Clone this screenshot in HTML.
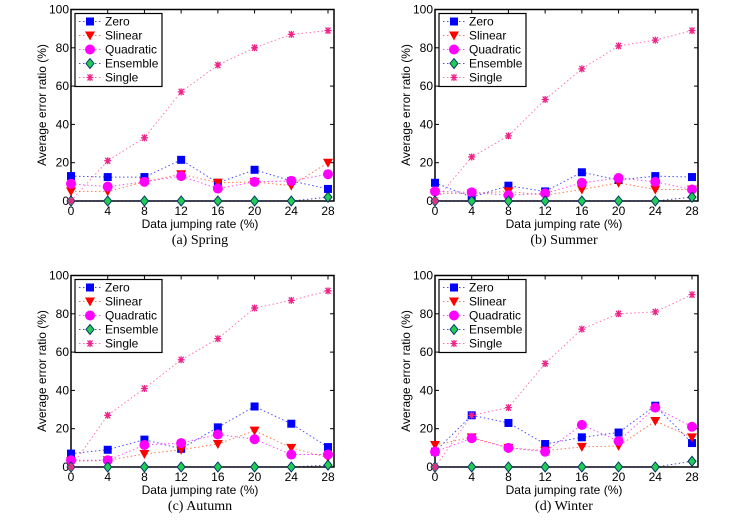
<!DOCTYPE html>
<html><head><meta charset="utf-8"><style>
body{margin:0;background:#fff;}
svg{display:block;font-family:"Liberation Sans",sans-serif;}
</style></head><body>
<svg id="c" width="747" height="521" viewBox="0 0 747 521"></svg>
<script>
const xCats=[0,4,8,12,16,20,24,28];
const yTicks=[0,20,40,60,80,100];
const seriesNames=["Zero","Slinear","Quadratic","Ensemble","Single"];
const springZero=[13,12.5,12.5,21.5,9.5,16.3,10.5,6.3];
const springSlinear=[5,5,10,14,9.5,10,8,20];
const springQuadratic=[9,7.5,10,13,6.5,10,10.5,14];
const springEnsemble=[0,0,0,0,0,0,0,2];
const springSingle=[0,21,33,57,71,80,87,89];
const summerZero=[9.5,2,8,5,15,11,13,12.5];
const summerSlinear=[4,4,5,3,6,9.5,6,6];
const summerQuadratic=[5,4.5,3,4,9.5,12,10,6];
const summerEnsemble=[0,0,0,0,0,0,0,2];
const summerSingle=[0,23,34,53,69,81,84,89];
const autumnZero=[7,9,14.3,9.5,20.7,31.6,22.6,10.4];
const autumnSlinear=[3,3.5,6.8,9,12,19,10,5];
const autumnQuadratic=[3.5,3.5,11.5,12.5,17,14.5,6.5,6.5];
const autumnEnsemble=[0,0,0,0,0,0,0,1];
const autumnSingle=[0,27,41,56,67,83,87,92];
const winterZero=[8,27,23,12,15.5,18,32,12.5];
const winterSlinear=[11.5,15.5,10,8.5,10.5,11,24,15.5];
const winterQuadratic=[8,15,10,8,22,13.5,31,21];
const winterEnsemble=[0,0,0,0,0,0,0,3];
const winterSingle=[0,27,31,54,72,80,81,90];

const panels=[
 {id:"spring",cap:"(a)  Spring",x0:71,y0:201,d:[springZero,springSlinear,springQuadratic,springEnsemble,springSingle]},
 {id:"summer",cap:"(b)  Summer",x0:435,y0:201,d:[summerZero,summerSlinear,summerQuadratic,summerEnsemble,summerSingle]},
 {id:"autumn",cap:"(c)  Autumn",x0:71,y0:467,d:[autumnZero,autumnSlinear,autumnQuadratic,autumnEnsemble,autumnSingle]},
 {id:"winter",cap:"(d)  Winter",x0:435,y0:467,d:[winterZero,winterSlinear,winterQuadratic,winterEnsemble,winterSingle]}
];
const lineCol=["#0000ff","#ff4000","#ff00ff","#0000c0","#ff3399"];
const NS="http://www.w3.org/2000/svg";
const svg=document.getElementById("c");
function mk(t,a,p){const e=document.createElementNS(NS,t);for(const k in a)e.setAttribute(k,a[k]);(p||svg).appendChild(e);return e;}
function marker(g,i,x,y){
 let e;
 if(i===0)e=mk("rect",{x:x-4,y:y-4,width:8,height:8,fill:"#0000ff"},g);
 else if(i===1)e=mk("polygon",{points:`${x-5},${y-4} ${x+5},${y-4} ${x},${y+5}`,fill:"#ff0000"},g);
 else if(i===2)e=mk("circle",{cx:x,cy:y,r:5,fill:"#ff00ff"},g);
 else if(i===3)e=mk("polygon",{points:`${x},${y-5} ${x+4},${y} ${x},${y+5} ${x-4},${y}`,fill:"#22cc55",stroke:"#003366","stroke-width":1},g);
 else{e=mk("path",{d:`M${x-3.5},${y}H${x+3.5}M${x-2.5},${y-3}L${x+2.5},${y+3}M${x-2.5},${y+3}L${x+2.5},${y-3}M${x},${y-3.5}V${y+3.5}`,stroke:"#ee2288","stroke-width":1.3,fill:"none"},g);}
 return e;
}
panels.forEach(p=>{
 const W=257,H=191.5,right=p.x0+263;
 const sx=v=>p.x0+v/28*W, sy=v=>p.y0-v/100*H;
 const g=mk("g",{});
 
 
 const box=mk("rect",{x:p.x0,y:sy(100),width:right-p.x0,height:H,fill:"#fff",stroke:"#000","stroke-width":1.5},g);
 
 
 yTicks.forEach(t=>{
  mk("line",{x1:p.x0,x2:p.x0+4,y1:sy(t),y2:sy(t),stroke:"#000"},g);
  mk("line",{x1:right,x2:right-4,y1:sy(t),y2:sy(t),stroke:"#000"},g);
  const tx=mk("text",{x:p.x0-2,y:sy(t)+4,"text-anchor":"end","font-size":12},g);
  
  
  tx.textContent=t;
 });
 xCats.forEach(c=>{
  mk("line",{x1:sx(c),x2:sx(c),y1:p.y0,y2:p.y0-4,stroke:"#000"},g);
  mk("line",{x1:sx(c),x2:sx(c),y1:sy(100),y2:sy(100)+4,stroke:"#000"},g);
  const tx=mk("text",{x:sx(c),y:p.y0+14,"text-anchor":"middle","font-size":12},g);
  
  
  tx.textContent=c;
 });
 const yl=mk("text",{x:0,y:0,"text-anchor":"middle","font-size":12,transform:`translate(${p.x0-25},${p.y0-96}) rotate(-90)`},g);
 
 
 yl.textContent="Average error ratio (%)";
 const xl=mk("text",{x:p.x0+129,y:p.y0+27,"text-anchor":"middle","font-size":12},g);
 
 
 xl.textContent="Data jumping rate (%)";
 const cp=mk("text",{x:p.x0+129,y:p.y0+43,"text-anchor":"middle","font-size":14,"font-family":"Liberation Serif, serif"},g);
 
 
 cp.textContent=p.cap;
 p.d.forEach((vals,i)=>{
  const ln=mk("polyline",{points:vals.map((v,k)=>sx(xCats[k])+","+sy(v)).join(" "),fill:"none",stroke:lineCol[i],"stroke-width":1,"stroke-dasharray":"1.5 2.5",opacity:0.7},g);
  
  
 });
 p.d.forEach((vals,i)=>{
  vals.forEach((v,k)=>{
   const m=marker(g,i,sx(xCats[k]),sy(v));
   
   
  });
 });
 const lx=p.x0+4,ly=sy(100)+4;
 const lg=mk("g",{},g);
 
 
 mk("rect",{x:lx,y:ly,width:87,height:73,fill:"#fff",stroke:"#000","stroke-width":1.2},lg);
 seriesNames.forEach((n,i)=>{
  const yy=ly+8+i*14;
  mk("line",{x1:lx+4,x2:lx+26,y1:yy,y2:yy,stroke:lineCol[i],"stroke-dasharray":"1.5 2.5",opacity:0.7},lg);
  marker(lg,i,lx+15,yy);
  const t=mk("text",{x:lx+30,y:yy+4,"font-size":12},lg);
  
  
  t.textContent=n;
 });
});
</script>
</body></html>
